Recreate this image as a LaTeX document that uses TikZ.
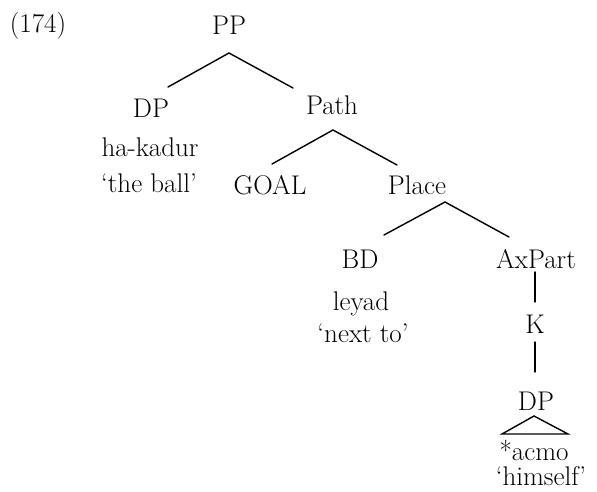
\documentclass[tikz,border=0pt]{standalone}
\usetikzlibrary{calc}
\begin{document}
\begin{tikzpicture}[x=1pt,y=-1pt,
  lab/.style={inner sep=0pt,anchor=base,font=\fontsize{27}{31}\selectfont},
  branch/.style={line width=1.4pt,line cap=round}]
\useasboundingbox (0,0) rectangle (597,492);
% example number
\node[lab] (num) at (38,33) {(174)};
% node labels (placed on their baselines)
\node[lab] (PP) at (229,35) {PP};
\node[lab] (DP) at (151,118) {DP};
\node[lab] (hakadur) at (150,157) {ha-kadur};
\node[lab] (theball) at (149,193) {‘the ball’};
\node[lab] (Path) at (332,115) {Path};
\node[lab] (GOAL) at (270,194) {GOAL};
\node[lab] (Place) at (417,194) {Place};
\node[lab] (BD) at (360,268) {BD};
\node[lab] (leyad) at (361,310) {leyad};
\node[lab] (nextto) at (363,342) {‘next to’};
\node[lab] (AxPart) at (536,268) {AxPart};
\node[lab] (K) at (535,333) {K};
\node[lab] (DPb) at (536,410) {DP};
\node[lab] (acmo) at (534,460) {*acmo};
\node[lab] (himself) at (541,485) {‘himself’};
% branch points
\coordinate (PPapex) at (229,53);
\coordinate (DPtop) at (168,87);
\coordinate (Pathtop) at (293,88);
\coordinate (Pathapex) at (333,130);
\coordinate (GOALtop) at (272,164);
\coordinate (Placetop) at (397,165);
\coordinate (Placeapex) at (445,202);
\coordinate (BDtop) at (384,235);
\coordinate (AxParttop) at (509,237);
\coordinate (AxPartfoot) at (535,272);
\coordinate (Ktop) at (535,302);
\coordinate (Kfoot) at (535,342);
\coordinate (DPbtop) at (535,372);
\coordinate (triapex) at (534,416);
\coordinate (trileft) at (502,434);
\coordinate (triright) at (568,434);
% branches
\draw[branch] (DPtop) -- (PPapex) -- (Pathtop);
\draw[branch] (GOALtop) -- (Pathapex) -- (Placetop);
\draw[branch] (BDtop) -- (Placeapex) -- (AxParttop);
\draw[branch] (AxPartfoot) -- (Ktop);
\draw[branch] (Kfoot) -- (DPbtop);
\draw[branch,line join=miter] (triapex) -- (trileft) -- (triright) -- cycle;
\end{tikzpicture}
\end{document}
